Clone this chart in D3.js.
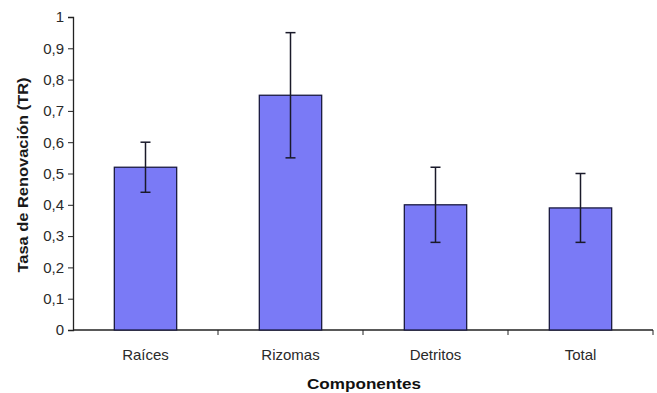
<!DOCTYPE html>
<html>
<head>
<meta charset="utf-8">
<script src="https://cdn.jsdelivr.net/npm/d3@7"></script>
<style>
  body { margin: 0; background: #fff; }
  svg { display: block; }
  text { font-family: Arial, "Liberation Sans", sans-serif; }
</style>
</head>
<body>
<svg id="chart" width="657" height="393"></svg>
<script>
// Turnover rate by component, with error bars (±)
const categories = ["Raíces", "Rizomas", "Detritos", "Total"];
const values = [0.52, 0.75, 0.40, 0.39];
const errors = [0.08, 0.20, 0.12, 0.11];
const yTicks = [0, 0.1, 0.2, 0.3, 0.4, 0.5, 0.6, 0.7, 0.8, 0.9, 1];

(function () {
const svg = d3.select("#chart");
const plot = { left: 73, right: 653, top: 17, bottom: 330 };

const x = d3.scaleBand().domain(categories).range([plot.left, plot.right]).paddingInner(0.57).paddingOuter(0.285);
const y = d3.scaleLinear().domain([0, 1]).range([plot.bottom, plot.top]);
const fmt = d => d === 0 || d === 1 ? String(d) : d3.format(".1f")(d).replace(".", ",");

// y axis
const yAxis = svg.append("g")
  .attr("transform", `translate(${plot.left},0)`)
  .call(d3.axisLeft(y).tickValues(yTicks).tickFormat(fmt).tickSize(5).tickPadding(4));
yAxis.select(".domain").attr("stroke", "#222").attr("stroke-width", 1.3);
yAxis.selectAll(".tick line").attr("stroke", "#222");
yAxis.selectAll("text").attr("font-size", 15).attr("fill", "#2a2a2a");

// x axis with ticks on category boundaries
const xAxisG = svg.append("g").attr("transform", `translate(0,${plot.bottom})`);
xAxisG.append("line").attr("x1", plot.left).attr("x2", plot.right).attr("stroke", "#222").attr("stroke-width", 1.3);
const bounds = categories.map((c, i) => x(c) - x.step() * x.paddingInner() / 2 + x.step());
xAxisG.selectAll("line.tk").data(bounds).join("line").attr("class", "tk")
  .attr("x1", d => d).attr("x2", d => d).attr("y1", 0).attr("y2", 5).attr("stroke", "#222");
xAxisG.selectAll("text").data(categories).join("text")
  .attr("x", d => x(d) + x.bandwidth() / 2).attr("y", 30)
  .attr("text-anchor", "middle").attr("font-size", 15).attr("fill", "#2a2a2a")
  .text(d => d);

// bars
svg.append("g").selectAll("rect").data(categories).join("rect")
  .attr("x", d => x(d)).attr("width", x.bandwidth())
  .attr("y", (d, i) => y(values[i])).attr("height", (d, i) => y(0) - y(values[i]))
  .attr("fill", "#7a7af6").attr("stroke", "#1a1a40").attr("stroke-width", 1.3);

// error bars
const eb = svg.append("g").attr("stroke", "#1a1a2a").attr("stroke-width", 1.5);
categories.forEach((c, i) => {
  const cx = x(c) + x.bandwidth() / 2;
  const hi = y(values[i] + errors[i]), lo = y(values[i] - errors[i]);
  eb.append("line").attr("x1", cx).attr("x2", cx).attr("y1", hi).attr("y2", lo);
  eb.append("line").attr("x1", cx - 5).attr("x2", cx + 5).attr("y1", hi).attr("y2", hi);
  eb.append("line").attr("x1", cx - 5).attr("x2", cx + 5).attr("y1", lo).attr("y2", lo);
});

// axis titles
svg.append("text").attr("transform", `translate(28,175) rotate(-90)`)
  .attr("text-anchor", "middle").attr("font-size", 14).attr("font-weight", "bold").attr("fill", "#1a1a1a")
  .attr("textLength", 195).attr("lengthAdjust", "spacingAndGlyphs")
  .text("Tasa de Renovación (TR)");
svg.append("text").attr("x", 364).attr("y", 389)
  .attr("text-anchor", "middle").attr("font-size", 15).attr("font-weight", "bold").attr("fill", "#111")
  .attr("textLength", 114).attr("lengthAdjust", "spacingAndGlyphs")
  .text("Componentes");
})();
</script>
</body>
</html>
